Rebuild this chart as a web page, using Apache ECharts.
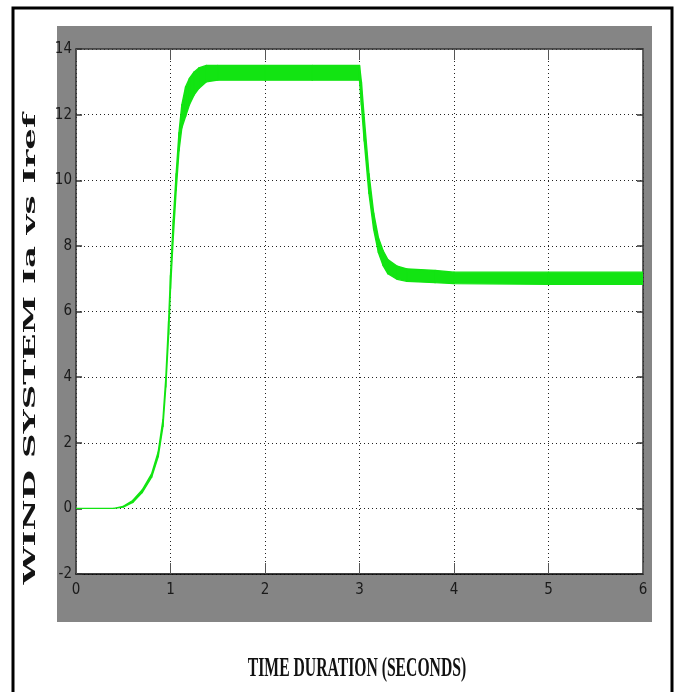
<!DOCTYPE html>
<html>
<head>
<meta charset="utf-8">
<script src="https://cdn.jsdelivr.net/npm/echarts@6/dist/echarts.min.js"></script>
<style>
html,body{margin:0;padding:0;background:#fff;}
#chart{width:677px;height:692px;}
</style>
</head>
<body>
<div id="chart"></div>
<script>
// Time samples (seconds)
const time = [0, 0.4, 0.5, 0.6, 0.7, 0.8, 0.87, 0.92, 0.95, 0.98, 1.0, 1.03, 1.06, 1.09, 1.12, 1.16, 1.2, 1.25, 1.3, 1.38, 1.5, 2.0, 2.5, 3.0, 3.02, 3.05, 3.1, 3.15, 3.2, 3.25, 3.3, 3.4, 3.5, 3.8, 4.0, 5.0, 6.0];
// Upper envelope of the current band
const upperEnv = [0, 0, 0.06, 0.24, 0.56, 1.05, 1.72, 2.7, 3.95, 5.7, 7.1, 8.8, 10.2, 11.45, 12.3, 12.85, 13.1, 13.3, 13.42, 13.5, 13.5, 13.5, 13.5, 13.5, 13.0, 11.9, 10.2, 9.0, 8.25, 7.85, 7.58, 7.38, 7.3, 7.25, 7.2, 7.2, 7.2];
// Lower envelope of the current band
const lowerEnv = [0, 0, 0.04, 0.18, 0.48, 0.95, 1.58, 2.5, 3.7, 5.3, 6.7, 8.3, 9.7, 10.9, 11.6, 11.95, 12.3, 12.6, 12.8, 13.0, 13.05, 13.05, 13.05, 13.05, 12.3, 11.2, 9.6, 8.5, 7.8, 7.4, 7.15, 6.98, 6.92, 6.88, 6.85, 6.83, 6.83];
// Axis ticks
const xTicks = [0, 1, 2, 3, 4, 5, 6];
const yTicks = [-2, 0, 2, 4, 6, 8, 10, 12, 14];

const bandData = time.map((t, i) => [t, upperEnv[i], lowerEnv[i]]);
const GREEN = '#12e412';
const tickFont = "'Liberation Sans Narrow','DejaVu Sans Condensed','Liberation Sans',sans-serif";

const chart = echarts.init(document.getElementById('chart'), null, {renderer: 'canvas'});

const baseX = {
  type: 'value', min: xTicks[0], max: xTicks[xTicks.length - 1], interval: 1
};
const baseY = {
  type: 'value', min: yTicks[0], max: yTicks[yTicks.length - 1], interval: 2
};

chart.setOption({
  animation: false,
  backgroundColor: '#ffffff',
  grid: {left: 76, right: 34, top: 49, bottom: 118, show: true, backgroundColor: '#ffffff', borderWidth: 0},
  xAxis: [
    Object.assign({}, baseX, {
      position: 'bottom',
      axisLine: {show: true, onZero: false, lineStyle: {color: '#000', width: 1.5}},
      axisTick: {show: true, inside: true, length: 11, lineStyle: {color: '#555', width: 1}},
      axisLabel: {show: true, margin: 9, color: '#1a1a1a', fontSize: 15, fontFamily: tickFont},
      splitLine: {show: true, lineStyle: {color: '#222', width: 1, type: [1, 3]}}
    }),
    Object.assign({}, baseX, {
      position: 'top',
      axisLine: {show: true, onZero: false, lineStyle: {color: '#333', width: 1.5}},
      axisTick: {show: true, inside: true, length: 11, lineStyle: {color: '#555', width: 1}},
      axisLabel: {show: false},
      splitLine: {show: false}
    })
  ],
  yAxis: [
    Object.assign({}, baseY, {
      position: 'left',
      axisLine: {show: true, onZero: false, lineStyle: {color: '#333', width: 1.5}},
      axisTick: {show: true, inside: true, length: 6, lineStyle: {color: '#333', width: 1.5}},
      axisLabel: {show: true, margin: 4, color: '#1a1a1a', fontSize: 15, fontFamily: tickFont},
      splitLine: {show: true, lineStyle: {color: '#222', width: 1, type: [1, 3]}}
    }),
    Object.assign({}, baseY, {
      position: 'right',
      axisLine: {show: true, onZero: false, lineStyle: {color: '#333', width: 1.5}},
      axisTick: {show: true, inside: true, length: 6, lineStyle: {color: '#333', width: 1.5}},
      axisLabel: {show: false},
      splitLine: {show: false}
    })
  ],
  graphic: [
    {type: 'rect', z: -20, shape: {x: 57, y: 26, width: 595, height: 596}, style: {fill: '#858585'}},
    {type: 'rect', z: -30, shape: {x: 13, y: 8, width: 659, height: 720}, style: {fill: 'none', stroke: '#000', lineWidth: 3}},
    {type: 'text', z: 10, x: 357, y: 669, scaleX: 0.56,
      style: {text: 'TIME DURATION (SECONDS)', font: "bold 28px 'Liberation Serif', serif", fill: '#111', textAlign: 'center', textVerticalAlign: 'middle'}},
    {type: 'text', z: 10, x: 31, y: 349, rotation: Math.PI / 2, scaleX: 2.0,
      style: {text: 'WIND SYSTEM Ia vs Iref', font: "bold 17px 'DejaVu Serif', serif", fill: '#141414', textAlign: 'center', textVerticalAlign: 'middle'}}
  ],
  series: [{
    type: 'custom',
    xAxisIndex: 0, yAxisIndex: 0,
    clip: true,
    data: bandData,
    encode: {x: 0, y: [1, 2]},
    renderItem: function (params, api) {
      const i = params.dataIndex;
      if (i >= bandData.length - 1) return null;
      const a = bandData[i], b = bandData[i + 1];
      const pts = [
        api.coord([a[0], a[1]]),
        api.coord([b[0], b[1]]),
        api.coord([b[0], b[2]]),
        api.coord([a[0], a[2]])
      ];
      return {
        type: 'polygon',
        shape: {points: pts},
        style: {fill: GREEN, stroke: GREEN, lineWidth: 1.4, lineJoin: 'round'}
      };
    }
  }]
});
</script>
</body>
</html>
